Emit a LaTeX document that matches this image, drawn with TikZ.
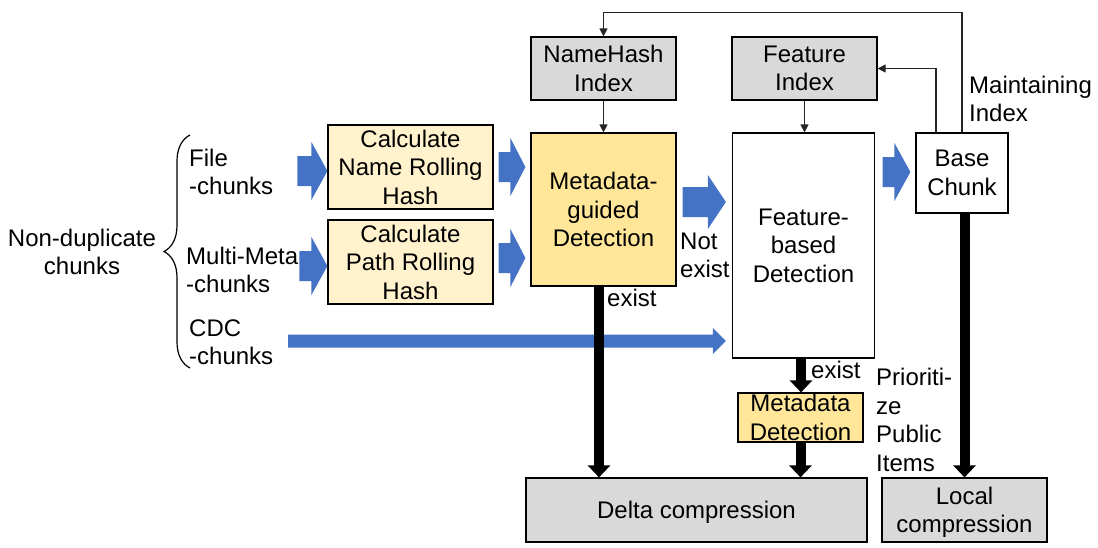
\documentclass[tikz,border=0pt]{standalone}
\usepackage{fontspec}
\setmainfont{Liberation Sans}
\usetikzlibrary{arrows.meta,calc,decorations.pathreplacing}
\definecolor{bl}{HTML}{4472C4}
\definecolor{cream}{HTML}{FFF2CC}
\definecolor{gold}{HTML}{FFE699}
\definecolor{gr}{HTML}{D9D9D9}
\newcommand\bluearrow[5]{\fill[bl] let \p1=(#1), \p2=(#2) in (\x1,{\y2+#3}) -- ({\x2-#5},{\y2+#3}) -- ({\x2-#5},{\y2+#4}) -- (\x2,\y2) -- ({\x2-#5},{\y2-#4}) -- ({\x2-#5},{\y2-#3}) -- (\x1,{\y2-#3}) -- cycle;}
\begin{document}
\begin{tikzpicture}[x=1pt,y=-1pt,font=\fontsize{24}{28.5}\selectfont,
  box/.style={draw=black,line width=1.2pt,align=center,inner sep=0pt},
  thinarrow/.style={line width=1.2pt,draw=black!85,-{Triangle[width=8pt,length=8pt]}},
  fatarrow/.style={line width=10pt,draw=black,-{Triangle[width=22pt,length=12pt]}},
  lbl/.style={align=left,inner sep=0pt,anchor=west}]
\useasboundingbox (0,0) rectangle (1098,547);

% boxes
\node[box,fill=cream,minimum width=165,minimum height=84] (c1) at (410.5,167) {Calculate\\Name Rolling\\Hash};
\node[box,fill=cream,minimum width=165,minimum height=84] (c2) at (410.5,262) {Calculate\\Path Rolling\\Hash};
\node[box,fill=gold,minimum width=145,minimum height=153] (mg) at (603.5,209.5) {Metadata-\\guided\\Detection};
\node[box,fill=gr,minimum width=145,minimum height=63] (nh) at (603.5,68.5) {NameHash\\Index};
\node[box,fill=gr,minimum width=145,minimum height=63] (fi) at (804.5,68.5) {Feature\\Index};
\node[box,fill=white,minimum width=142,minimum height=225] (fb) at (803.5,245.5) {Feature-\\based\\Detection};
\node[box,fill=white,minimum width=92,minimum height=80] (bc) at (962,173) {Base\\Chunk};
\node[box,fill=gold,minimum width=125,minimum height=49,text depth=0pt] (md) at (800.5,417.5) {Metadata\\Detection};
\node[box,fill=gr,minimum width=341,minimum height=64,text depth=0pt] (dc) at (696.5,510) {Delta compression};
\node[box,fill=gr,minimum width=165,minimum height=64,text depth=0pt] (lc) at (964.5,510) {Local\\compression};

% left labels
\node[align=center,inner sep=0pt] (nd) at (82,252) {Non-duplicate\\chunks};
\draw[line width=1.2pt,decorate,decoration={brace,amplitude=26pt}] (190,368) -- (190,135);
\node[lbl] (fc) at (189,172) {File\\-chunks};
\node[lbl] (mc) at (186,270) {Multi-Meta\\-chunks};
\node[lbl] (cc) at (189,342) {CDC\\-chunks};
\coordinate (cdc0) at (288,341);

% other labels
\node[lbl] (ex1) at (607,298) {exist};
\node[lbl] (ex2) at (811,370) {exist};
\node[lbl] (ne) at (680,255.5) {Not\\exist};
\node[lbl] (mi) at (969,99) {Maintaining\\Index};
\node[lbl] (pp) at (876,420) {Prioriti-\\ze\\Public\\Items};

% blue block arrows
\bluearrow{[xshift=-30pt,yshift=-4pt]c1.west}{[yshift=-4pt]c1.west}{15pt}{29pt}{16pt}
\bluearrow{[xshift=-28pt,yshift=-4pt]c2.west}{[yshift=-4pt]c2.west}{15pt}{29pt}{16pt}
\bluearrow{[xshift=5pt]c1.east}{[xshift=-5pt]mg.west |- c1.east}{15pt}{29pt}{15pt}
\bluearrow{[xshift=5pt,yshift=4pt]c2.east}{[xshift=-5pt,yshift=4pt]mg.west |- c2.east}{15pt}{29pt}{15pt}
\coordinate (n5) at ([xshift=6pt,yshift=7.5pt]mg.east);
\bluearrow{n5}{[xshift=-6pt]fb.west |- n5}{15pt}{27pt}{18pt}
\bluearrow{[xshift=7.5pt,yshift=1pt]fb.east |- bc.west}{[xshift=-5pt,yshift=1pt]bc.west}{15pt}{29pt}{16pt}
\bluearrow{cdc0}{[xshift=-6pt]fb.west |- cdc0}{6.5pt}{13pt}{13pt}

% thin arrows
\draw[thinarrow] (nh) -- (mg);
\draw[thinarrow] (fi.south) -- (fi.south |- fb.north);
\draw[thinarrow] (bc.north) -- ++(0,-120) -| (nh.north);
\draw[thinarrow] ([xshift=-26pt]bc.north) |- (fi.east);

% fat arrows
\draw[fatarrow] ([xshift=-4.5pt]mg.south) -- ([xshift=-4.5pt]mg.south |- dc.north);
\draw[fatarrow] ([xshift=-2.5pt]fb.south) -- ([xshift=-2.5pt]fb.south |- md.north);
\draw[fatarrow] (md.south) -- (md.south |- dc.north);
\draw[fatarrow] (bc.south -| lc.north) -- (lc.north);
\end{tikzpicture}
\end{document}
